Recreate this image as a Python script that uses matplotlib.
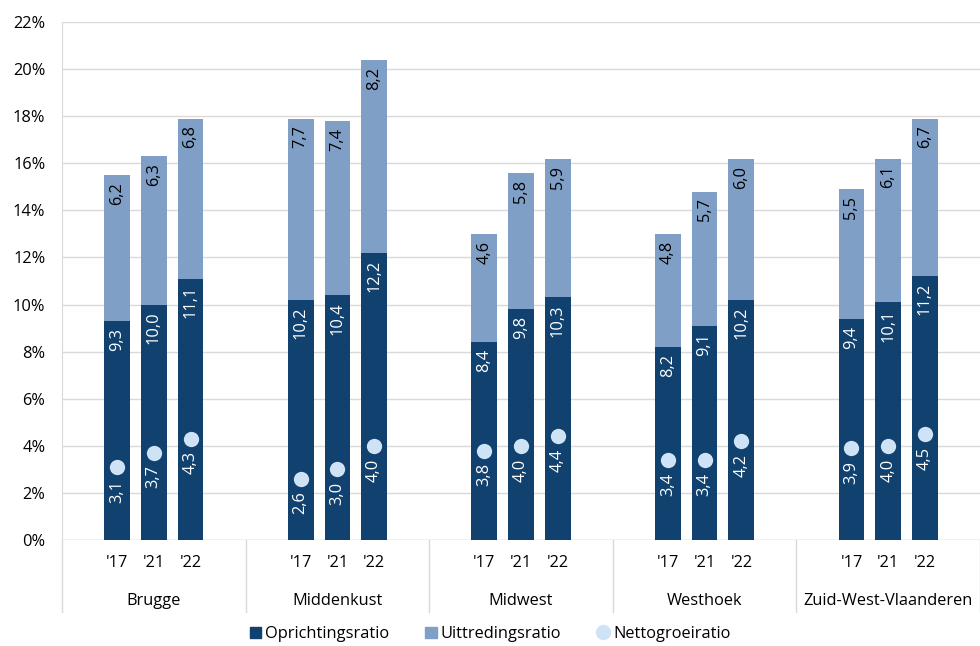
import matplotlib
matplotlib.use("Agg")
import matplotlib.pyplot as plt
from matplotlib.transforms import blended_transform_factory
from matplotlib.lines import Line2D
from matplotlib.patches import Patch

plt.rcParams['font.family'] = ['Open Sans', 'DejaVu Sans']

regions = ["Brugge", "Middenkust", "Midwest", "Westhoek", "Zuid-West-Vlaanderen"]
years = ["'17", "'21", "'22"]
oprichting = [[9.3, 10.0, 11.1], [10.2, 10.4, 12.2], [8.4, 9.8, 10.3], [8.2, 9.1, 10.2], [9.4, 10.1, 11.2]]
uittreding = [[6.2, 6.3, 6.8], [7.7, 7.4, 8.2], [4.6, 5.8, 5.9], [4.8, 5.7, 6.0], [5.5, 6.1, 6.7]]
netto = [[3.1, 3.7, 4.3], [2.6, 3.0, 4.0], [3.8, 4.0, 4.4], [3.4, 3.4, 4.2], [3.9, 4.0, 4.5]]

c_dark = "#11416f"
c_light = "#809fc7"
c_dot = "#cfe3f6"
FS = 11.8

fig = plt.figure(figsize=(9.8, 6.46), dpi=100)
ax = fig.add_axes([62/980, 1-540/646, 918/980, 518/646])

def fmt(v):
    return f"{v:.1f}".replace(".", ",")

xs, xt = [], []
for g in range(len(regions)):
    for j in range(len(years)):
        x = 5*g + 1 + j + 0.5
        o = oprichting[g][j]; u = uittreding[g][j]; n = netto[g][j]
        ax.bar(x, o, width=0.7, color=c_dark, zorder=2)
        ax.bar(x, u, bottom=o, width=0.7, color=c_light, zorder=2)
        ax.plot(x, n, 'o', ms=11, color=c_dot, mec='none', zorder=3)
        ax.annotate(fmt(o), (x, o), xytext=(0, -5), textcoords='offset points',
                    rotation=90, ha='center', va='top', color='white', fontsize=FS, zorder=4)
        ax.annotate(fmt(u), (x, o+u), xytext=(0, -5), textcoords='offset points',
                    rotation=90, ha='center', va='top', color='black', fontsize=FS, zorder=4)
        ax.annotate(fmt(n), (x, n), xytext=(0, -9), textcoords='offset points',
                    rotation=90, ha='center', va='top', color='white', fontsize=FS, zorder=4)
        xt.append(x); xs.append(years[j])

ax.set_xlim(0, 25)
ax.set_ylim(0, 22)
ax.set_yticks(range(0, 23, 2))
ax.set_yticklabels([f"{v}%" for v in range(0, 23, 2)], fontsize=FS)
ax.set_xticks(xt)
ax.set_xticklabels(xs, fontsize=FS)
ax.tick_params(axis='x', length=0, pad=11)
ax.tick_params(axis='y', length=0, pad=12)
ax.grid(axis='y', color='#d9d9d9', lw=1, zorder=0)
for s in ['top', 'right', 'bottom']:
    ax.spines[s].set_visible(False)
ax.spines['left'].set_color('#d9d9d9')
ax.axhline(0, color='#d9d9d9', lw=1, zorder=1)

tr = blended_transform_factory(ax.transData, ax.transAxes)
for g in range(len(regions)+1):
    ax.plot([5*g, 5*g], [0, -72/518], color='#d9d9d9', lw=1, transform=tr, clip_on=False)
for g, r in enumerate(regions):
    ax.text(5*g + 2.5, -61/518, r, transform=tr, ha='center', va='center', fontsize=FS)

handles = [Patch(color=c_dark, label='Oprichtingsratio'),
           Patch(color=c_light, label='Uittredingsratio'),
           Line2D([], [], marker='o', ls='none', color=c_dot, ms=10, label='Nettogroeiratio')]
fig.legend(handles=handles, loc='center', bbox_to_anchor=(490/980, 1-634/646), ncol=3,
           frameon=False, fontsize=FS, handlelength=0.7, handleheight=0.7,
           handletextpad=0.25, columnspacing=2.2)

fig.savefig("out.png", dpi=100)
